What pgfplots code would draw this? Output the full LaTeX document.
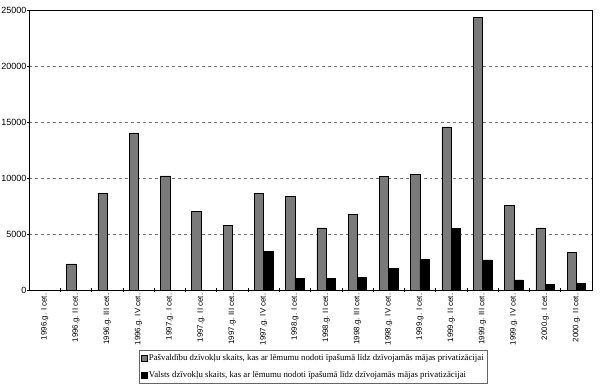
\documentclass[border=0pt]{standalone}
\usepackage{fontspec}
\setmainfont{Liberation Serif}
\setsansfont{Liberation Sans}
\usepackage{pgfplots}
\pgfplotsset{compat=1.18}
\begin{document}
\begin{tikzpicture}
\begin{axis}[
  name=ax,
  scale only axis,
  width=563bp, height=280bp,
  xmin=-0.5, xmax=17.5,
  ymin=0, ymax=25000,
  ytick={0,5000,10000,15000,20000,25000},
  scaled y ticks=false,
  /pgf/number format/assume math mode=true,
  /pgf/number format/1000 sep={},
  yticklabel style={font=\sffamily\fontsize{9bp}{10bp}\selectfont, inner sep=1bp},
  xtick={0,...,17},
  xticklabels={1996.g. I cet.,1996.g. II cet.,1996.g. III cet.,1996.g. IV cet.,
    1997.g. I cet.,1997.g. II cet.,1997.g. III cet.,1997.g. IV cet.,
    1998.g. I cet.,1998.g. II cet.,1998.g. III cet.,1998.g. IV cet.,
    1999.g. I cet.,1999.g. II cet.,1999.g. III cet.,1999.g. IV cet.,
    2000.g. I cet.,2000.g. II cet.},
  xticklabel style={font=\sffamily\fontsize{7.9bp}{8.5bp}\selectfont, rotate=90, anchor=east, inner sep=2bp},
  minor x tick num=1,
  extra x ticks={-0.5,17.5},
  extra x tick labels={},
  extra x tick style={major tick length=4bp, tick align=center},
  xtick pos=bottom,
  ytick pos=left,
  major x tick style={draw=none},
  minor tick length=4bp,
  tick align=center,
  major tick length=3bp,
  tick style={black, line width=0.5pt},
  ymajorgrids,
  major grid style={dashed, black!55, line width=0.4pt},
  axis line style={black, line width=0.7pt},
  legend style={
    at={(0.195,-0.214)}, anchor=north west,
    font=\fontsize{8.8bp}{10bp}\selectfont,
    draw=black!60, line width=0.4pt,
    row sep=5bp, inner xsep=2bp, inner ysep=2.5bp,
    legend cell align=left,
    /tikz/every even column/.append style={column sep=1bp},
  },
  legend image code/.code={\draw[#1, line width=0.3pt] (0bp,-2.8bp) rectangle (5.6bp,2.8bp);},
]
\addplot[ybar, bar width=9.3bp, bar shift=-4.65bp, fill=black!52, draw=black, line width=0.5pt]
  coordinates {(1,2340) (2,8630) (3,14030) (4,10200) (5,7040) (6,5750) (7,8630)
    (8,8340) (9,5550) (10,6745) (11,10135) (12,10315) (13,14570) (14,24340)
    (15,7550) (16,5550) (17,3330)};
\addlegendentry{Pašvaldību dzīvokļu skaits, kas ar lēmumu nodoti īpašumā līdz dzīvojamās mājas privatizācijai\hspace{36bp}}
\addplot[ybar, bar width=9.3bp, bar shift=4.65bp, fill=black, draw=black, line width=0.5pt]
  coordinates {(7,3417) (8,1050) (9,1050) (10,1100) (11,1915) (12,2760)
    (13,5515) (14,2700) (15,900) (16,510) (17,600)};
\addlegendentry{Valsts dzīvokļu skaits, kas ar lēmumu nodoti īpašumā līdz dzīvojamās mājas privatizācijai}
\end{axis}
\pgfresetboundingbox
\path[use as bounding box] ([shift={(-29bp,-95bp)}]ax.south west) rectangle ([shift={(8bp,10bp)}]ax.north east);
\end{tikzpicture}
\end{document}
